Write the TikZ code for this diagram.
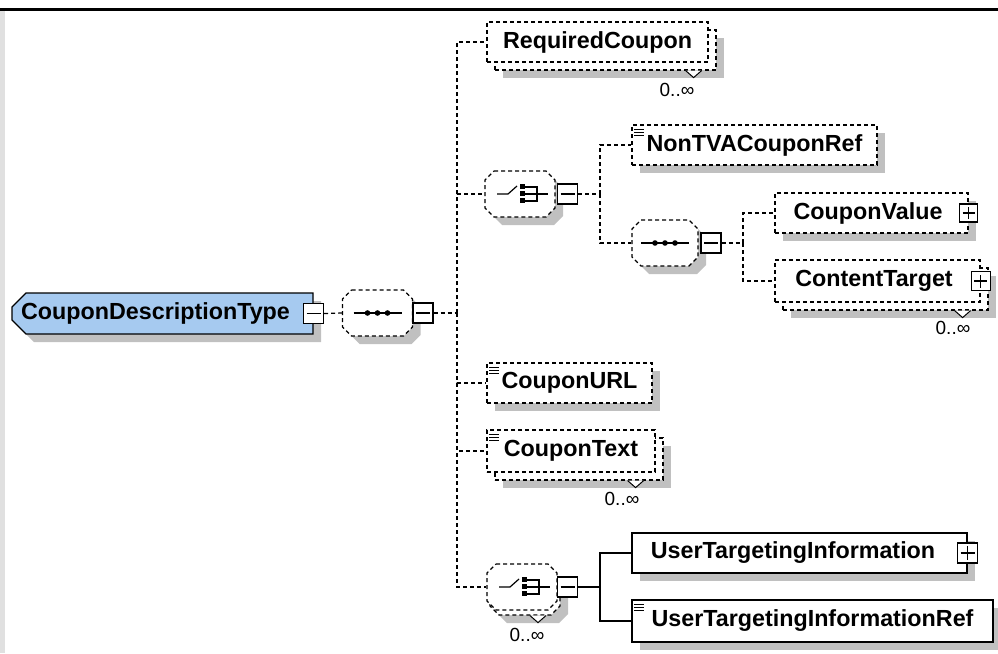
\documentclass[tikz,border=0pt]{standalone}
\usepackage{fontspec}
\setmainfont{Liberation Sans}
\usetikzlibrary{shapes.misc,shadows}
\definecolor{cdtblue}{RGB}{166,202,240}
\definecolor{shgray}{RGB}{192,192,192}
\definecolor{stripgray}{RGB}{224,224,224}

\begin{document}
\begin{tikzpicture}[x=1pt,y=-1pt,line width=1.2pt,
  elem/.style={draw,fill=white,rectangle,inner sep=0pt,minimum height=40pt,
    font=\fontsize{23.3}{28}\selectfont\bfseries},
  opt/.style={dash pattern=on 4pt off 3pt},
  shad/.style={drop shadow={shadow xshift=8pt,shadow yshift=-8pt,fill=shgray,opacity=1}},
  comp/.style={rectangle,inner sep=0pt,minimum width=70pt,minimum height=46pt},
  btn/.style={draw,fill=white,solid,rectangle,inner sep=0pt,minimum size=#1,line width=1.1pt},
  minbtn/.style={btn=#1,path picture={\draw[line width=1.1pt]
    ([xshift=3pt]path picture bounding box.west) -- ([xshift=-3pt]path picture bounding box.east);}},
  plusbtn/.style={btn=#1,path picture={\draw[line width=1.1pt]
    ([xshift=3pt]path picture bounding box.west) -- ([xshift=-3pt]path picture bounding box.east)
    ([yshift=3pt]path picture bounding box.south) -- ([yshift=-3pt]path picture bounding box.north);}},
  conn/.style={opt},
  occ/.style={font=\fontsize{19}{22}\selectfont},
  padr/.style={execute at end node={\hspace{#1}}}]

\useasboundingbox (0,0) rectangle (998,653);

%frame
\fill (0,8) rectangle (998,11);
\fill[stripgray] (0,11) rectangle (5,653);

%compositor places
\node[comp] (seqA) at (377.5,313) {};
\node[comp] (chA) at (520,194) {};
\node[comp,minimum width=66pt] (seqB) at (665,243) {};
\node[comp] (chBb) at (525,592) {};
\node[comp] (chB) at (522,587) {};

%octagons
\foreach \c/\w/\s in {seqA/35/1,chA/35/1,seqB/33/1,chBb/35/1,chB/35/0} {
\begin{scope}[shift={(\c.center)}]
\ifnum\s=1
\fill[shgray,shift={(8,8)}] (-\w+9,-23) -- (\w-9,-23) -- (\w,-14) -- (\w,14) -- (\w-9,23)
  -- (-\w+9,23) -- (-\w,14) -- (-\w,-14) -- cycle;
\fi
\draw[opt,fill=white] (-\w+9,-23) -- (\w-9,-23) -- (\w,-14) -- (\w,14) -- (\w-9,23)
  -- (-\w+9,23) -- (-\w,14) -- (-\w,-14) -- cycle;
\end{scope}
}

%CouponDescriptionType

\begin{scope}
\node[elem,chamfered rectangle,chamfered rectangle corners={north west,south west},
  chamfered rectangle xsep=7pt,chamfered rectangle ysep=7pt,fill=cdtblue,
  minimum width=301pt,minimum height=41pt,shad,padr=14pt] (cdt) at (162.5,313.5) {CouponDescriptionType};
\node[minbtn=20pt] (cdtbtn) at (cdt.east) {};

\node[minbtn=20pt] (seqAbtn) at (423,313) {};
\coordinate (tr) at (457,313);
\end{scope}

%RequiredCoupon

\node[elem,opt,shad,minimum width=221pt] (reqcb) at (605.5,50) {};
\node[elem,opt,minimum width=221pt] (reqc) at (597.5,42) {RequiredCoupon};
\draw[fill=white,line width=1pt] (reqcb.south east) ++(-31,0) -- ++(8,7) -- ++(8,-7);
\node[occ] (reqcocc) at (677,90) {0..∞};

%choice

\node[minbtn=20pt] (chAbtn) at (567.5,194) {};
\coordinate (bA) at (600,194);

\node[elem,opt,shad,minimum width=245pt] (ntva) at (754.5,145) {NonTVACouponRef};

\node[minbtn=20pt] (seqBbtn) at (711,243) {};
\coordinate (bB) at (743,243);

\node[elem,opt,shad,minimum width=193pt,padr=7pt] (cval) at (871.5,213) {CouponValue};
\node[plusbtn=18pt] (cvalbtn) at (cval.east) {};

\node[elem,opt,shad,minimum width=205pt,minimum height=42pt] (ctgtb) at (885.5,289) {};
\node[elem,opt,minimum width=205pt,minimum height=42pt,padr=7pt] (ctgt) at (877.5,281) {ContentTarget};
\node[plusbtn=19pt] (ctgtbtn) at (ctgt.east) {};
\draw[fill=white,line width=1pt] (ctgtb.south east) ++(-34,0) -- ++(8,7) -- ++(8,-7);
\node[occ] (ctgtocc) at (953,328) {0..∞};

%CouponURL, CouponText

\node[elem,opt,shad,minimum width=165pt] (url) at (569.5,383) {CouponURL};

\node[elem,opt,shad,minimum width=168pt,minimum height=42pt] (txtb) at (579,459) {};
\node[elem,opt,minimum width=168pt,minimum height=42pt] (txt) at (571,451) {CouponText};
\draw[fill=white,line width=1pt] (txtb.south east) ++(-36,0) -- ++(8,7) -- ++(8,-7);
\node[occ] (txtocc) at (622,499) {0..∞};

%choice 0..oo

\draw[fill=white,line width=1pt] (chBb.south) ++(5,0) -- ++(8,7) -- ++(8,-7);
\node[occ] (chBocc) at (527,635) {0..∞};
\node[minbtn=20pt] (chBbtn) at (567.5,587) {};
\coordinate (bC) at (600,587);

\node[elem,shad,minimum width=335pt,padr=13pt] (uti) at (799.5,553) {UserTargetingInformation};
\node[plusbtn=20pt] (utibtn) at (uti.east) {};
\node[elem,shad,minimum width=361pt,minimum height=42pt] (utiref) at (812.5,621) {UserTargetingInformationRef};

%icons
\foreach \n in {ntva,url,txt,utiref} {
\begin{scope}[shift={(\n.north west)}]
\foreach \k in {5,8,11} \draw[line width=1pt] (3,\k) -- (13,\k);
\end{scope}
}

\foreach \s in {seqA,seqB} {
\begin{scope}[shift={(\s.center)}]
\draw (-24,0) -- (24,0);
\foreach \d in {-10,0,10} \fill (\d,0) circle (2.8pt);
\end{scope}
}

\foreach \c in {chA,chB} {
\begin{scope}[shift={(\c.center)}]
\draw (-23,0) -- (-12,0) -- (-3,-8);
\foreach \k in {-10,-3,4} \fill (0,\k) rectangle (5,\k+5);
\draw (5,-7) -- (17,-7) -- (17,7) -- (5,7);
\draw (5,0) -- (28,0);
\end{scope}
}

%connectors
\draw[conn] (cdtbtn.east) -- (seqA.west);
\draw[conn] (seqAbtn.east) -- (tr);
\foreach \n in {reqc,chA,url,txt,chB} \draw[conn] (tr) |- (\n.west);

\draw[conn] (chAbtn.east) -- (bA);
\draw[conn] (bA) |- (ntva.west);
\draw[conn] (bA) |- (seqB.west);

\draw[conn] (seqBbtn.east) -- (bB);
\draw[conn] (bB) |- (cval.west);
\draw[conn] (bB) |- (ctgt.west);

\draw (chBbtn.east) -- (bC);
\draw (bC) |- (uti.west);
\draw (bC) |- (utiref.west);

\end{tikzpicture}
\end{document}
